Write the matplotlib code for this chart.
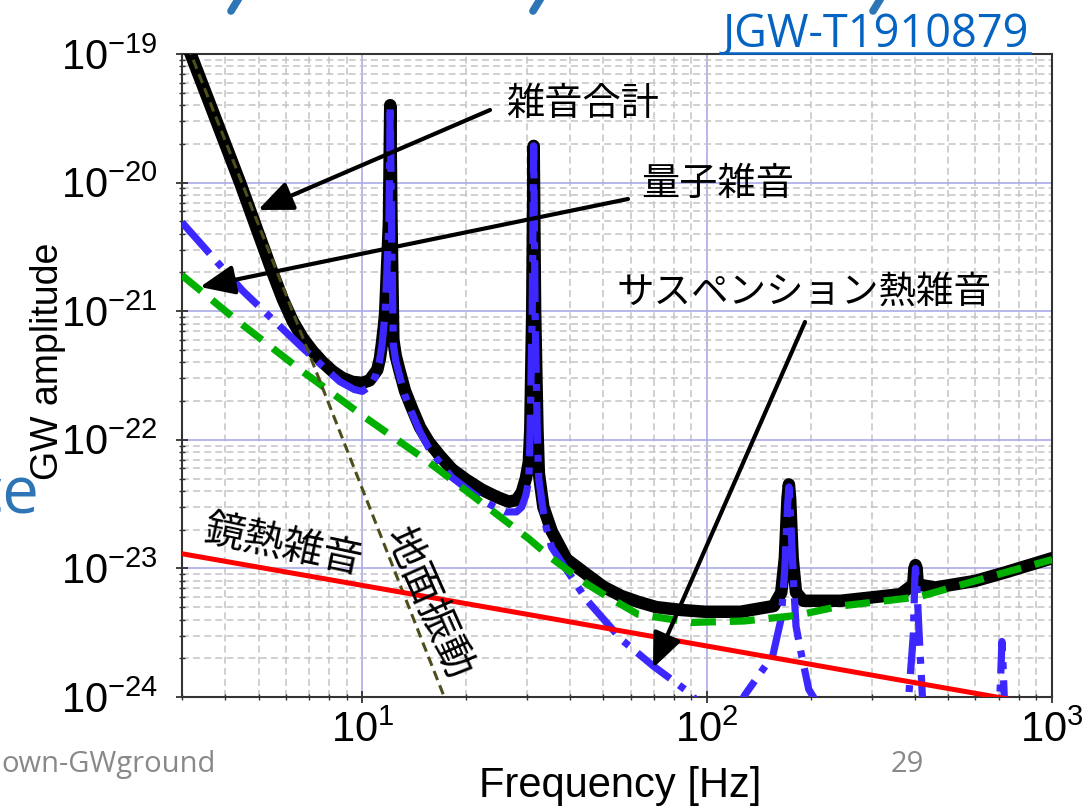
import numpy as np
import matplotlib
matplotlib.use("Agg")
import matplotlib.pyplot as plt
from matplotlib import font_manager
from matplotlib.ticker import LogLocator, NullFormatter
from matplotlib.lines import Line2D

# ---- data (Hz, strain amplitude) ----
seis_f = [3.0, 5.0, 8.0, 12.0, 20.0]
seis_h = [1.5e-19, 4.7e-21, 1.9e-22, 1.2e-23, 3.7e-25]

mirror_f = [3.0, 30.0, 300.0, 1000.0]
mirror_h = [1.3e-23, 4.4e-24, 1.48e-24, 8.4e-25]

quant_f = [3.0, 4.3, 6.71, 10.2, 15.2, 30.4, 35.4, 44.7, 50.0, 63.0, 90.0,
           128.0, 181.0, 244.0, 410.0, 731.0, 1000.0]
quant_h = [1.9e-21, 8.6e-22, 3.4e-22, 1.49e-22, 7.05e-23, 1.7e-23, 1.2e-23,
           7.6e-24, 6.3e-24, 4.4e-24, 3.8e-24, 3.9e-24, 4.3e-24, 5.1e-24,
           6.0e-24, 9.3e-24, 1.17e-23]

susp_f = [3.0, 4.5, 6.7, 8.6, 9.48, 10.0, 10.5, 10.9, 11.2, 11.4, 11.65, 11.95,
          12.05, 12.15, 12.3, 12.5, 12.8, 13.3, 13.95, 14.7, 15.6, 16.8, 18.2,
          20.0, 22.2, 24.5, 25.9, 28.0, 29.0, 29.8, 30.4, 30.6, 31.1, 31.4, 31.7,
          32.2, 32.5, 33.8, 35.4, 44.7, 56.4, 69.8, 90.0, 110.0, 129.0, 143.0,
          155.0, 164.0, 168.0, 171.0, 172.6, 174.0, 178.0, 181.0, 187.0, 197.0,
          250.0, 370.0, 384.0, 396.0, 400.0, 402.0, 405.0, 412.0, 421.0, 500.0,
          690.0, 706.0, 713.0, 716.0, 720.0, 727.0, 800.0, 1000.0]
susp_h = [4.9e-21, 1.44e-21, 5.2e-22, 2.84e-22, 2.46e-22, 2.38e-22, 2.6e-22,
          3.1e-22, 4.0e-22, 5.4e-22, 9.8e-22, 5e-21, 4.0e-20, 5e-21, 5.5e-22,
          4.1e-22, 3.2e-22, 2.2e-22, 1.6e-22, 1.15e-22, 8.6e-23, 6.6e-23,
          5.1e-23, 4.2e-23, 3.4e-23, 2.95e-23, 2.75e-23, 2.75e-23, 3.0e-23,
          3.7e-23, 4.9e-23, 8.9e-23, 1e-21, 1.93e-20, 1e-21, 1.0e-22, 4.9e-23,
          2.3e-23, 1.46e-23, 5.7e-24, 2.8e-24, 1.74e-24, 1.05e-24, 5e-25,
          1.05e-24, 1.55e-24, 2.1e-24, 4.1e-24, 1e-23, 3e-23, 4.3e-23, 3e-23,
          8e-24, 3.55e-24, 2.24e-24, 1.15e-24, 4e-25, 5e-25, 1e-24, 3e-24, 8e-24,
          1.0e-23, 8e-24, 3e-24, 1e-24, 3e-25, 5e-25, 1e-24, 2e-24, 2.7e-24,
          2e-24, 1e-24, 3e-25, 2e-25]

total_f = [3.0, 3.6, 4.42, 5.5, 5.88, 6.28, 6.71, 7.17, 7.66, 8.18, 8.75, 9.36,
           10.0, 10.5, 11.05, 11.25, 11.4, 11.55, 11.65, 11.95, 12.05, 12.15,
           12.3, 12.5, 12.8, 13.3, 13.95, 14.7, 15.6, 16.8, 18.2, 20.0, 22.2,
           24.5, 26.6, 28.0, 29.0, 29.8, 30.4, 30.7, 31.1, 31.4, 31.7, 32.2,
           32.5, 33.5, 35.4, 39.1, 44.7, 50.0, 56.4, 63.0, 71.2, 84.0, 98.6,
           125.0, 156.0, 164.0, 168.0, 171.0, 172.6, 174.0, 177.0, 181.0, 190.0,
           244.0, 364.0, 396.0, 399.0, 402.0, 405.0, 408.0, 459.0, 600.0, 731.0,
           1000.0]
total_h = [1.5e-19, 4.2e-20, 1e-20, 1.98e-21, 1.24e-21, 8.4e-22, 6.2e-22,
           4.9e-22, 4.03e-22, 3.43e-22, 3.03e-22, 2.82e-22, 2.77e-22, 2.9e-22,
           3.5e-22, 4.3e-22, 5.6e-22, 7.6e-22, 9.8e-22, 5e-21, 4.0e-20, 5e-21,
           6e-22, 4.5e-22, 3.5e-22, 2.4e-22, 1.74e-22, 1.25e-22, 9.6e-23,
           7.5e-23, 5.9e-23, 4.9e-23, 4.1e-23, 3.6e-23, 3.3e-23, 3.4e-23,
           3.9e-23, 5.0e-23, 6.7e-23, 1.2e-22, 1e-21, 1.93e-20, 1e-21, 1.2e-22,
           5.5e-23, 3e-23, 1.95e-23, 1.18e-23, 9.0e-24, 7.2e-24, 6.1e-24,
           5.5e-24, 5.0e-24, 4.75e-24, 4.6e-24, 4.6e-24, 5.1e-24, 6.5e-24,
           1.2e-23, 3.5e-23, 4.5e-23, 3.5e-23, 1.2e-23, 6.5e-24, 5.6e-24,
           5.6e-24, 6.3e-24, 7.5e-24, 1e-23, 1.06e-23, 1e-23, 7.5e-24, 7.1e-24,
           8.0e-24, 9.3e-24, 1.2e-23]

x_range = (3, 1000)
y_range = (1e-24, 1e-19)

# ---- fonts ----
names = {f.name for f in font_manager.fontManager.ttflist}
tick_font = "Liberation Sans Narrow" if "Liberation Sans Narrow" in names else "Liberation Sans"
cjk = ["Noto Sans CJK JP", "DejaVu Sans"]
slide_font = ["Open Sans", "DejaVu Sans"]

plt.rcParams["font.family"] = ["Liberation Sans", "DejaVu Sans"]
plt.rcParams["mathtext.fontset"] = "custom"
plt.rcParams["mathtext.rm"] = tick_font
plt.rcParams["mathtext.it"] = tick_font
plt.rcParams["mathtext.default"] = "regular"
plt.rcParams["lines.scale_dashes"] = False

W, H = 1092, 807
fig = plt.figure(figsize=(W / 100, H / 100), dpi=100)
L, R, T, B = 182, 1052, 54, 697
ax = fig.add_axes([L / W, 1 - B / H, (R - L) / W, (B - T) / H])
ax.set_xscale("log")
ax.set_yscale("log")
ax.set_xlim(*x_range)
ax.set_ylim(*y_range)

# curves
ax.plot(total_f, total_h, color="black", lw=9, solid_joinstyle="round",
        solid_capstyle="round", zorder=3)
ax.plot(susp_f, susp_h, color="#3c28ff", lw=5.2, dashes=(30, 8, 5, 8), zorder=4)
ax.plot(quant_f, quant_h, color="#00b000", lw=5.2, dashes=(18, 10), zorder=5)
ax.plot(seis_f, seis_h, color="#4e4e1c", lw=2.2, dashes=(7, 4), zorder=6)
ax.plot(mirror_f, mirror_h, color="#ff0000", lw=3.6, zorder=6)

# grid / ticks
ax.xaxis.set_minor_locator(LogLocator(base=10, subs=np.arange(2, 10), numticks=20))
ax.yaxis.set_minor_locator(LogLocator(base=10, subs=np.arange(2, 10), numticks=20))
ax.xaxis.set_minor_formatter(NullFormatter())
ax.yaxis.set_minor_formatter(NullFormatter())
ax.set_axisbelow(True)
ax.grid(which="major", color="#aaaae6", lw=1.2, ls="-")
ax.grid(which="minor", color="#c4c4c4", lw=1.1, ls=(0, (5, 3)))
ax.tick_params(which="major", direction="inout", length=9, width=1.3,
               labelsize=30, color="#333333")
ax.tick_params(which="minor", direction="inout", length=5, width=1.0, color="#333333")
ax.tick_params(axis="y", which="major", pad=13)
ax.tick_params(axis="x", which="major", pad=5)
for s in ax.spines.values():
    s.set_color("#333333")
    s.set_linewidth(1.5)

ax.set_xlabel("Frequency [Hz]", fontsize=30)
ax.xaxis.set_label_coords((620 - L) / (R - L), (B - 786) / (B - T))
ax.xaxis.label.set_va("center")
ax.set_ylabel("GW amplitude", fontsize=27)
ax.yaxis.set_label_coords((48 - L) / (R - L), (B - 361) / (B - T))
ax.yaxis.label.set_va("center")

# ---- slide overlays, placed by pixel from the top-left corner ----
def fp(x, y):
    return (x, H - y)


def fr(x, y):
    return (x / W, 1 - y / H)


ap = dict(arrowstyle="-|>,head_length=0.75,head_width=0.32", color="black",
          lw=3, shrinkA=0, shrinkB=0, mutation_scale=28)
ax.annotate("", xy=fp(258, 210), xytext=fp(490, 110), xycoords="figure pixels",
            textcoords="figure pixels", arrowprops=ap, zorder=10)
ax.annotate("", xy=fp(200, 287), xytext=fp(628, 199), xycoords="figure pixels",
            textcoords="figure pixels", arrowprops=ap, zorder=10)
ax.annotate("", xy=fp(653, 668), xytext=fp(805, 322), xycoords="figure pixels",
            textcoords="figure pixels", arrowprops=ap, zorder=10)

fig.text(*fr(583, 105), "雑音合計", family=cjk, fontsize=27.5, ha="center", va="center")
fig.text(*fr(718, 184), "量子雑音", family=cjk, fontsize=27.5, ha="center", va="center")
fig.text(*fr(804, 292), "サスペンション熱雑音", family=cjk, fontsize=27,
         ha="center", va="center")
fig.text(*fr(283, 545), "鏡熱雑音", family=cjk, fontsize=29, ha="center",
         va="center", rotation=-12, rotation_mode="anchor")
fig.text(*fr(428, 604), "地面振動", family=cjk, fontsize=29, ha="center",
         va="center", rotation=-66, rotation_mode="anchor")

link_blue = "#0563c1"
fig.text(*fr(723, 47), "JGW-T1910879", family=slide_font, fontsize=32.5,
         color=link_blue, ha="left", va="baseline")
fig.add_artist(Line2D([723 / W, 1030 / W], [1 - 53 / H, 1 - 53 / H],
                      transform=fig.transFigure, color=link_blue, lw=1.8))

# tails of the slide title's letters, cut by the top edge
for xp in [234, 536, 876]:
    fig.add_artist(Line2D([(xp + 5) / W, (xp - 3) / W], [1 + 2 / H, 1 - 11 / H],
                          transform=fig.transFigure, color="#2e75b6", lw=5.5,
                          solid_capstyle="round"))

fig.text(*fr(39, 513), "ce", family=slide_font, fontsize=47, color="#2e75b6",
         ha="right", va="baseline", zorder=10)
fig.text(*fr(1, 772), "own-GWground", family=slide_font, fontsize=21,
         color="#898989", ha="left", va="baseline")
fig.text(*fr(907, 772), "29", family=slide_font, fontsize=21,
         color="#898989", ha="center", va="baseline")

fig.savefig("out.png", dpi=100)
